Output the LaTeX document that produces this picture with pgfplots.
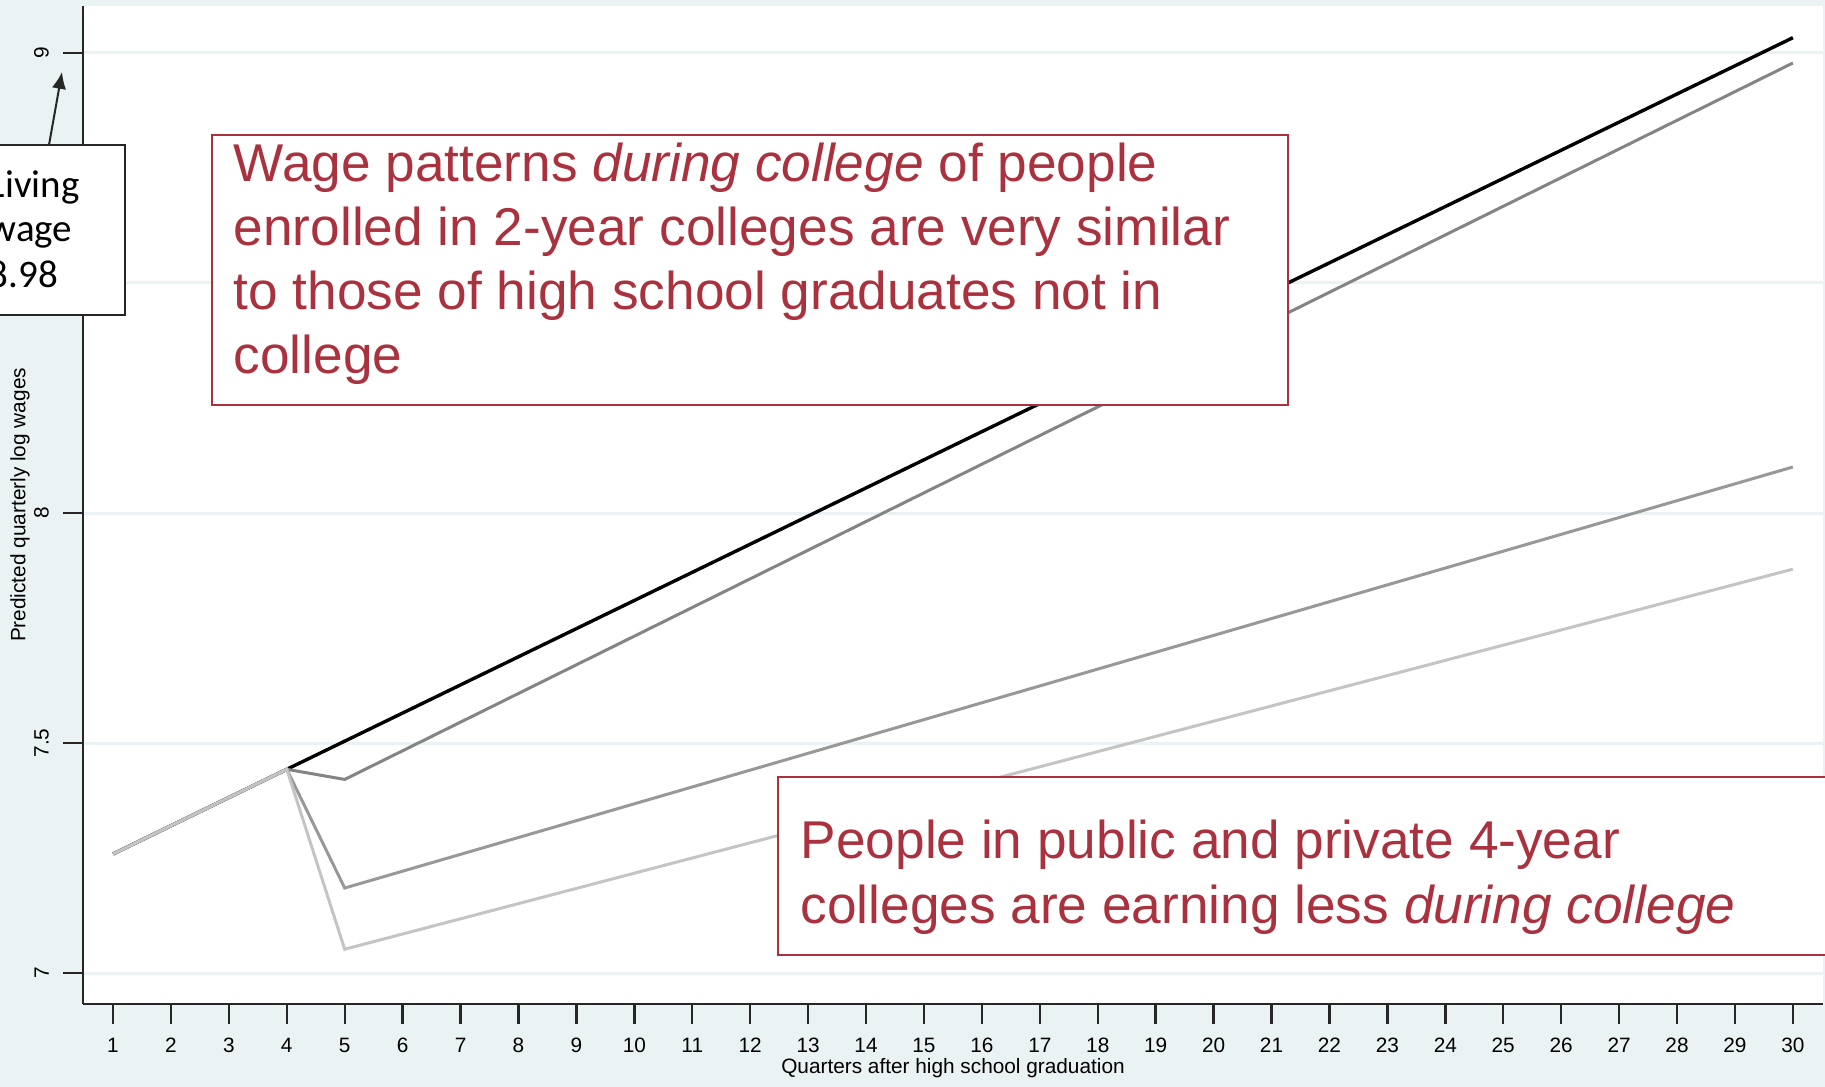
\documentclass[border=0pt]{standalone}
\usepackage{pgfplots}
\pgfplotsset{compat=1.18}
\usepackage{fontspec}
\setmainfont{Liberation Sans}
\newfontfamily\calibri{Carlito}
\usetikzlibrary{arrows.meta}
\definecolor{bgc}{RGB}{234,242,243}
\definecolor{redc}{RGB}{170,50,62}
\definecolor{g1}{RGB}{132,132,132}
\definecolor{g2}{RGB}{152,152,152}
\definecolor{g3}{RGB}{196,196,196}
\begin{document}
\begin{tikzpicture}[x=0.25pt,y=0.25pt]
\useasboundingbox (0,0) rectangle (1825,1087);
\clip (0,0) rectangle (1825,1087);
\fill[bgc] (0,0) rectangle (1825,1087);
\begin{axis}[
  at={(20.75pt,20.75pt)}, anchor=south west,
  scale only axis, width=435pt, height=249.5pt,
  xmin=0.482, xmax=30.52, ymin=6.933, ymax=9.102,
  axis x line*=bottom, axis y line*=left,
  axis line style={-, line width=0.7pt, black!85},
  xtick={1,...,30}, ytick={7,7.5,8,8.5,9},
  tick align=outside, major tick length=5pt,
  tick style={line width=0.6pt, black!85},
  ymajorgrids, grid style={line width=0.75pt, bgc},
  axis background/.style={fill=white},
  /pgf/number format/assume math mode=true,
  tick label style={font=\fontsize{5.2}{6}\selectfont, black},
  yticklabel style={rotate=90, anchor=south},
  xlabel={Quarters after high school graduation},
  ylabel={Predicted quarterly log wages},
  label style={font=\fontsize{5.2}{6}\selectfont},
  xlabel style={at={(rel axis cs:0.5,0)}, anchor=center, yshift=-16pt},
  ylabel style={at={(rel axis cs:0,0.5)}, anchor=center, yshift=15.75pt},
]
\addplot[black, line width=0.85pt] coordinates {(1,7.259) (4,7.443) (30,9.033)};
\addplot[g1, line width=0.75pt] coordinates {(1,7.259) (4,7.443) (5,7.421) (30,8.978)};
\addplot[g2, line width=0.75pt] coordinates {(1,7.259) (4,7.443) (5,7.185) (30,8.100)};
\addplot[g3, line width=0.75pt] coordinates {(1,7.259) (4,7.443) (5,7.052) (30,7.878)};
\end{axis}
% Living wage annotation
\draw[black!85, line width=0.5pt, -{Latex[length=4.2pt, width=3.6pt]}] (49,942) -- (62,1015);
\draw[black!85, fill=white, line width=0.4pt] (-40,772) rectangle (125,942);
\begin{scope}[every node/.style={inner sep=0pt, anchor=base west, font=\calibri\fontsize{9.75}{11}\selectfont}]
\node at (-12,889) {Living};
\node at (-12,845) {wage};
\node at (-12,799) {8.98};
\end{scope}
% Red boxes
\draw[redc, fill=white, line width=0.4pt] (212,682) rectangle (1288,952);
\draw[redc, fill=white, line width=0.4pt] (778,132) rectangle (1900,310);
\begin{scope}[every node/.style={inner sep=0pt, anchor=base west, text=redc, font=\fontsize{13.3}{16}\selectfont}]
\node at (233,905) {Wage patterns \textit{during college} of people};
\node at (233,841) {enrolled in 2-year colleges are very similar};
\node at (233,777) {to those of high school graduates not in};
\node at (233,713) {college};
\node at (800,228) {People in public and private 4-year};
\node at (800,163) {colleges are earning less \textit{during college}};
\end{scope}
\end{tikzpicture}
\end{document}
